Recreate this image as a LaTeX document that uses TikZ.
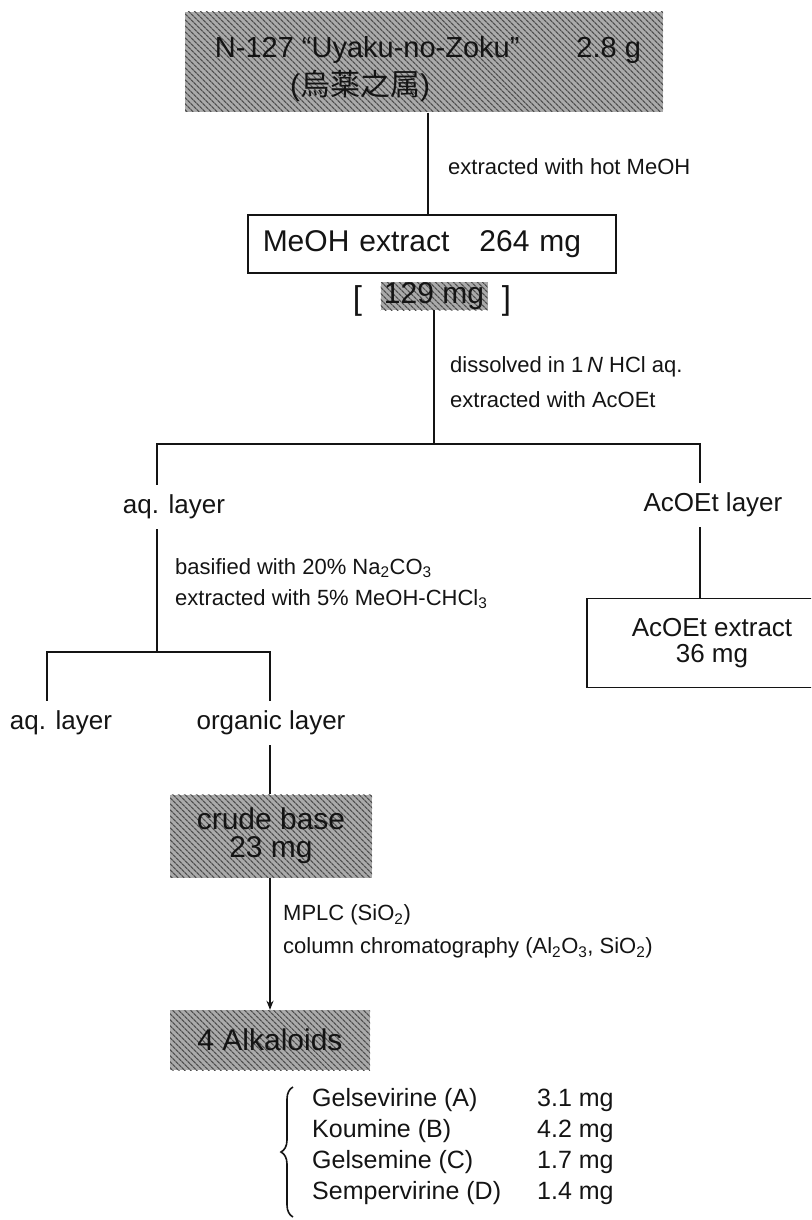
\documentclass[tikz,border=0pt]{standalone}
\usepackage{fontspec}
\setmainfont{Liberation Sans}
\newfontfamily\jpfont{Noto Sans CJK JP}
\usetikzlibrary{positioning,arrows.meta,patterns.meta,decorations.pathreplacing}
\definecolor{Ink}{RGB}{20,20,20}
\definecolor{Shade}{RGB}{170,170,170}

\begin{document}
\begin{tikzpicture}[x=1pt,y=-1pt,
    link/.style={Ink,line width=1.6pt},
    hatched/.style={preaction={fill=Shade},pattern={Lines[angle=-45,distance=4pt,line width=1.3pt]},pattern color=Ink!75},
    frame/.style={draw=Ink,line width=1.5pt},
    bigtext/.style={font=\fontsize{30}{34}\selectfont,text=Ink,inner sep=0pt},
    note/.style={font=\fontsize{22}{26}\selectfont,text=Ink,anchor=west,inner sep=0pt},
    layer/.style={font=\fontsize{26}{30}\selectfont,text=Ink,inner xsep=0pt,inner ysep=10pt},
    item/.style={font=\fontsize{25}{29}\selectfont,text=Ink,anchor=west,inner sep=0pt}
]

\useasboundingbox (0,0) rectangle (811,1220);
\clip (0,0) rectangle (811,1220);

% Starting material
\node[hatched,minimum width=478pt,minimum height=100pt,inner sep=0pt] (raw) at (424,62) {};
\node[bigtext,font=\fontsize{29}{34}\selectfont] (rawname) at (428,50) {N-127 ``Uyaku-no-Zoku''\hspace{57pt}2.8 g};
\node[bigtext,anchor=west] (rawjp) at (290,86) {({\jpfont 烏薬之属})};

% MeOH extract
\node[note] (hotmeoh) at (448,167) {extracted with hot MeOH};
\node[frame,bigtext,anchor=west,minimum width=368pt,minimum height=58pt,text width=338pt,inner xsep=15pt,inner ysep=0pt,align=left] (meoh) at (247,244) {MeOH extract\hspace{1em}264 mg};
\node[hatched,bigtext,minimum width=107pt,minimum height=28pt] (frac) at (434,296) {129 mg};
\node[bigtext,font=\fontsize{33}{34}\selectfont,left=18pt of frac,yshift=-5pt] (lbr) {[};
\node[bigtext,font=\fontsize{33}{34}\selectfont,right=14pt of frac,yshift=-5pt] (rbr) {]};

% Partition
\node[note] (dissolve) at (450,367) {dissolved in 1\,\textit{N} HCl aq.};
\node[note] (acoext) at (450,400) {extracted with AcOEt};
\coordinate (s1) at (434,444);
\coordinate (s1l) at (157,444);
\coordinate (s1r) at (700,444);
\node[layer] (aqa) at (174,507) {aq. layer};
\node[layer] (acl) at (713,505) {AcOEt layer};
\node[frame,font=\fontsize{26}{26}\selectfont,text=Ink,align=center,minimum width=250pt,minimum height=89pt] (acx) at (712,643) {AcOEt extract\\36 mg};

% Basification
\node[note] (basify) at (175,568) {basified with 20\% Na\textsubscript{2}CO\textsubscript{3}};
\node[note] (chcl) at (175,599) {extracted with 5\% MeOH-CHCl\textsubscript{3}};
\coordinate (s2) at (157,652);
\coordinate (s2l) at (47,652);
\coordinate (s2r) at (270,652);
\node[layer] (aqb) at (61,723) {aq. layer};
\node[layer] (org) at (271,723) {organic layer};
\node[hatched,bigtext,align=center,minimum width=202pt,minimum height=83pt,font=\fontsize{30}{28}\selectfont] (crude) at (271,836) {crude base\\23 mg};

% Chromatography
\node[note] (mplc) at (283,915) {MPLC (SiO\textsubscript{2})};
\node[note] (column) at (283,948) {column chromatography (Al\textsubscript{2}O\textsubscript{3}, SiO\textsubscript{2})};
\node[hatched,bigtext,minimum width=200pt,minimum height=60pt] (alk) at (270,1040) {4 Alkaloids};

% Alkaloid list
\node[item] (ga) at (312,1100) {Gelsevirine (A)};
\node[item] (gb) at (312,1131) {Koumine (B)};
\node[item] (gc) at (312,1162) {Gelsemine (C)};
\node[item] (gd) at (312,1193) {Sempervirine (D)};
\node[item] (ma) at (537,1100) {3.1 mg};
\node[item] (mb) at (537,1131) {4.2 mg};
\node[item] (mc) at (537,1162) {1.7 mg};
\node[item] (md) at (537,1193) {1.4 mg};
\coordinate (bb) at (293,1217);
\coordinate (bt) at (293,1087);
\draw[Ink,line width=1.6pt,decorate,decoration={brace,amplitude=12pt}] (bb) -- (bt);

% Connectors
\draw[link] (rawname.south |- raw.south) -- (rawname.south |- meoh.north);
\draw[link] (frac.south) -- (s1);
\draw[link] (aqa.north -| s1l) -- (s1l) -- (s1r) -- (acl.north -| s1r);
\draw[link] (acl.south -| s1r) -- (acx.north -| s1r);
\draw[link] (aqa.south -| s1l) -- (s2);
\draw[link] (aqb.north -| s2l) -- (s2l) -- (s2r) -- (org.north -| s2r);
\draw[link] (org.south -| s2r) -- (crude.north -| s2r);
\draw[link,-{Stealth[length=9pt,width=7pt]}] (crude.south -| s2r) -- (alk.north -| s2r);

\end{tikzpicture}
\end{document}
